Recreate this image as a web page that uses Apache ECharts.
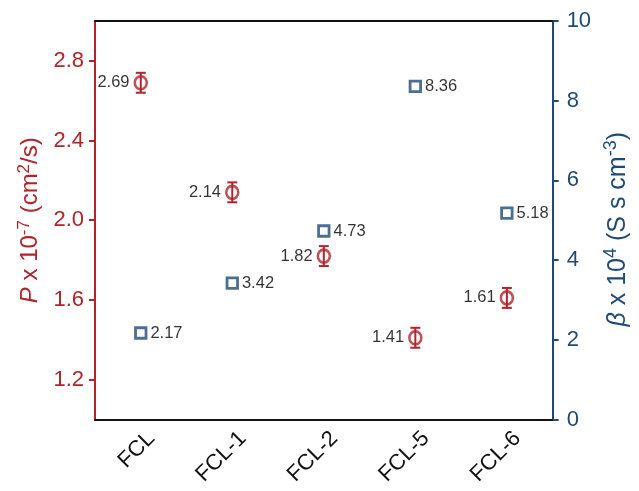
<!DOCTYPE html>
<html>
<head>
<meta charset="utf-8">
<script src="https://cdn.jsdelivr.net/npm/echarts@6/dist/echarts.min.js"></script>
<style>
  html, body { margin: 0; padding: 0; background: #fff; }
  #chart { width: 639px; height: 491px; }
</style>
</head>
<body>
<div id="chart"></div>
<script>
// Samples on the x axis
const categories = ['FCL', 'FCL-1', 'FCL-2', 'FCL-5', 'FCL-6'];
// Permeability P (x 10^-7 cm^2/s) with its error
const permeability = [2.69, 2.14, 1.82, 1.41, 1.61];
const permeabilityErr = [0.05, 0.05, 0.05, 0.05, 0.05];
// Parameter beta (x 10^4 S s cm^-3)
const beta = [2.17, 3.42, 4.73, 8.36, 5.18];
// Tick labels of the left axis
const leftTicks = [1.2, 1.6, 2.0, 2.4, 2.8];

const RED = '#b2232a';
const BLUE = '#1f4a78';
const FONT = 'Liberation Sans, Arial, sans-serif';

const chart = echarts.init(document.getElementById('chart'));

const titleRich = (color, size, supSize) => ({
  n: { fontSize: size, color, fontFamily: FONT, verticalAlign: 'bottom', lineHeight: size + 4 },
  i: { fontSize: size, color, fontFamily: FONT, fontStyle: 'italic', verticalAlign: 'bottom', lineHeight: size + 4 },
  s: { fontSize: supSize, color, fontFamily: FONT, verticalAlign: 'bottom', padding: [0, 0, Math.round(size * 0.42), 0], lineHeight: supSize + 1 }
});

chart.setOption({
  animation: false,
  backgroundColor: '#fff',
  grid: { left: 95, right: 71, top: 21, bottom: 67, containLabel: false },
  xAxis: [
    {
      type: 'category',
      data: categories,
      position: 'bottom',
      axisLine: { lineStyle: { color: '#111', width: 2 } },
      axisTick: { alignWithLabel: true, length: 6, lineStyle: { color: '#111', width: 2 } },
      axisLabel: {
        rotate: 45, fontSize: 22, color: '#111', fontFamily: FONT, margin: 5,
        align: 'right', verticalAlign: 'top', lineHeight: 30
      },
      splitLine: { show: false }
    },
    {
      type: 'category',
      data: categories,
      position: 'top',
      axisLine: { lineStyle: { color: '#111', width: 2 } },
      axisTick: { show: false },
      axisLabel: { show: false },
      splitLine: { show: false }
    }
  ],
  yAxis: [
    {
      type: 'value',
      position: 'left',
      min: 1.0,
      max: 3.0,
      axisLine: { show: true, lineStyle: { color: RED, width: 2 } },
      axisTick: { show: true, length: 6, customValues: leftTicks, lineStyle: { color: RED, width: 2 } },
      axisLabel: {
        customValues: leftTicks, fontSize: 22, color: RED, fontFamily: FONT, margin: 11,
        formatter: (v) => v.toFixed(1)
      },
      splitLine: { show: false },
      name: '{i|P}{n| x 10}{s|-7}{n| (cm}{s|2}{n|/s)}',
      nameLocation: 'middle',
      nameRotate: 90,
      nameGap: 50,
      nameTextStyle: { rich: titleRich(RED, 24, 17) }
    },
    {
      type: 'value',
      position: 'right',
      min: 0,
      max: 10,
      interval: 2,
      axisLine: { show: true, lineStyle: { color: BLUE, width: 2 } },
      axisTick: { show: true, length: 6, lineStyle: { color: BLUE, width: 2 } },
      axisLabel: { fontSize: 22, color: BLUE, fontFamily: FONT, margin: 14 },
      splitLine: { show: false },
      name: '{i|β}{n| x 10}{s|4}{n| (S s cm}{s|-3}{n|)}',
      nameLocation: 'middle',
      nameRotate: 90,
      nameGap: 48,
      nameTextStyle: { rich: titleRich(BLUE, 25, 18), padding: [0, 18, 0, 0] }
    }
  ],
  series: [
    {
      // error bars for P
      type: 'custom',
      yAxisIndex: 0,
      data: permeability.map((v, i) => [i, v - permeabilityErr[i], v + permeabilityErr[i]]),
      renderItem: (params, api) => {
        const lo = api.coord([api.value(0), api.value(1)]);
        const hi = api.coord([api.value(0), api.value(2)]);
        const cap = 5;
        const style = { stroke: RED, lineWidth: 2 };
        return {
          type: 'group',
          children: [
            { type: 'line', shape: { x1: lo[0], y1: lo[1], x2: hi[0], y2: hi[1] }, style },
            { type: 'line', shape: { x1: lo[0] - cap, y1: lo[1], x2: lo[0] + cap, y2: lo[1] }, style },
            { type: 'line', shape: { x1: hi[0] - cap, y1: hi[1], x2: hi[0] + cap, y2: hi[1] }, style }
          ]
        };
      },
      z: 2
    },
    {
      type: 'scatter',
      yAxisIndex: 0,
      data: permeability,
      symbol: 'circle',
      symbolSize: [12, 13],
      itemStyle: { color: 'rgba(0,0,0,0)', borderColor: RED, borderWidth: 2.6 },
      label: {
        show: true, position: 'left', distance: 4, fontSize: 16.5, color: '#000', fontFamily: FONT,
        formatter: (p) => p.value.toFixed(2)
      },
      z: 3
    },
    {
      type: 'scatter',
      yAxisIndex: 1,
      data: beta,
      symbol: 'rect',
      symbolSize: 10.5,
      itemStyle: { color: '#fff', borderColor: BLUE, borderWidth: 2.8 },
      label: {
        show: true, position: 'right', distance: 3, fontSize: 16.5, color: '#000', fontFamily: FONT,
        formatter: (p) => p.value.toFixed(2)
      },
      z: 3
    }
  ]
});
</script>
</body>
</html>
